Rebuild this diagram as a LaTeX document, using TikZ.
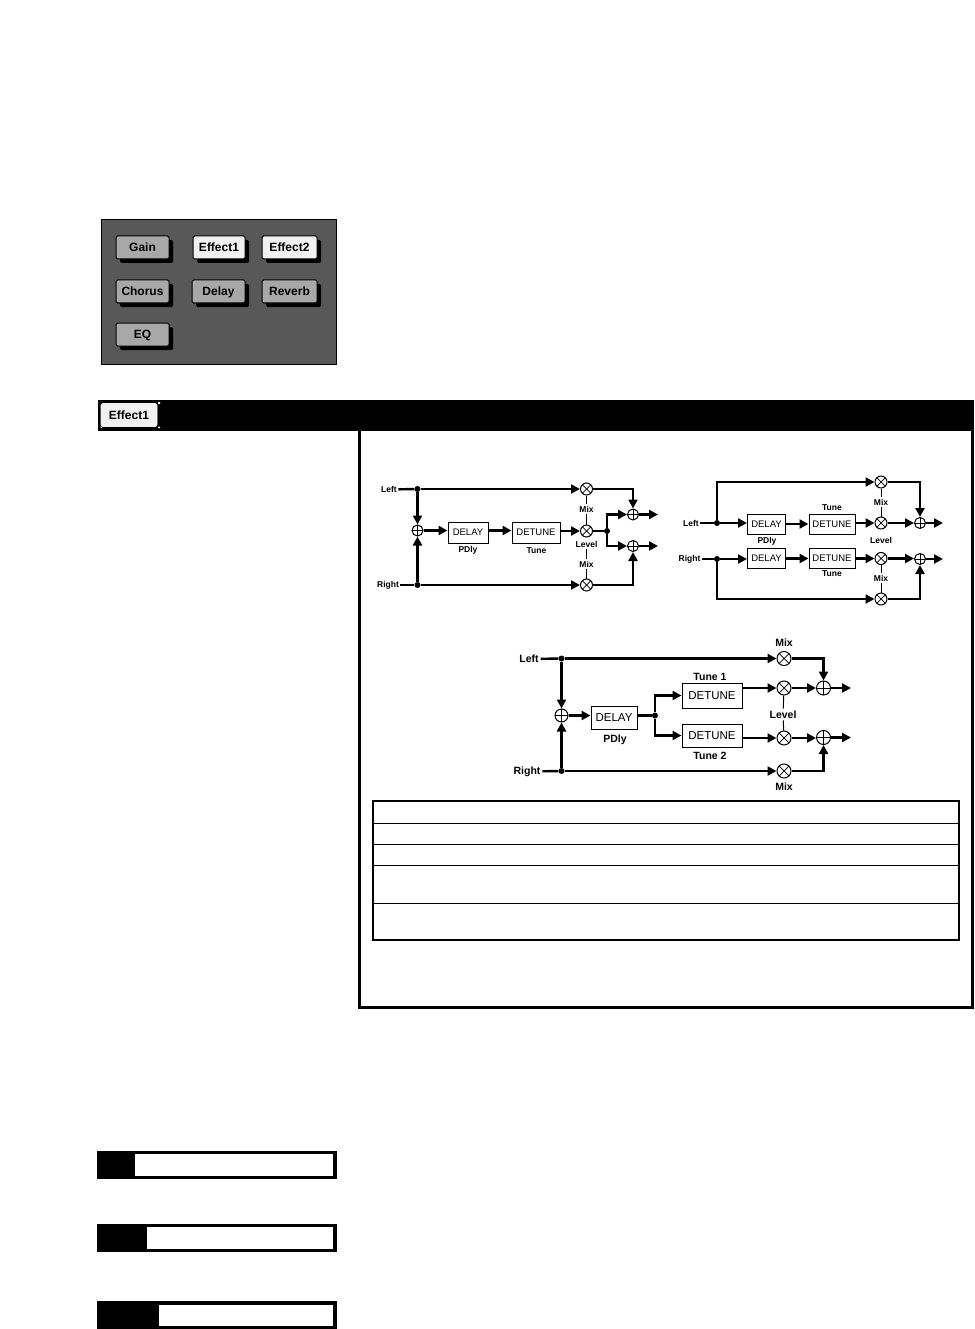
\documentclass[tikz,border=0pt]{standalone}
\usepackage{fontspec}
\setmainfont{Liberation Sans}
\usetikzlibrary{arrows.meta,shadows}
\definecolor{paneldark}{HTML}{585858}
\definecolor{btngray}{HTML}{A8A8A8}
\definecolor{btnlight}{HTML}{F0F0F0}
\tikzset{
  sumn/.style={circle,draw,line width=1pt,fill=white,minimum size=#1,inner sep=0pt,
    path picture={\draw[line width=1pt] (path picture bounding box.north)--(path picture bounding box.south)
      (path picture bounding box.west)--(path picture bounding box.east);}},
  sumn/.default=11pt,
  mixn/.style={circle,draw,line width=1pt,fill=white,minimum size=#1,inner sep=0pt,
    path picture={\draw[line width=0.7pt] (path picture bounding box.north west)--(path picture bounding box.south east)
      (path picture bounding box.south west)--(path picture bounding box.north east);}},
  mixn/.default=12pt,
  blk/.style={draw,line width=1pt,fill=white,inner sep=0pt,font=\fontsize{9.5}{10}\selectfont},
  blkb/.style={blk,font=\fontsize{11.5}{12}\selectfont},
  lbl/.style={inner sep=0pt,outer sep=1.5pt,font=\bfseries\fontsize{8.5}{9}\selectfont},
  lblb/.style={inner sep=0pt,outer sep=2pt,font=\bfseries\fontsize{10.5}{11}\selectfont},
  sig/.style={line width=2.4pt,-{Triangle[length=9pt,width=9pt]}},
  wire/.style={line width=2.4pt},
  tickl/.style={line width=1pt},
  jdot/.style={circle,fill=black,minimum size=6pt,inner sep=0pt},
  btn/.style={draw=black,line width=1pt,rounded corners=1.5pt,inner sep=0pt,text height=9pt,text depth=1pt,
    font=\bfseries\fontsize{12}{12}\selectfont,
    drop shadow={shadow xshift=4pt,shadow yshift=-4pt,fill=black,opacity=1}},
}
\begin{document}
\begin{tikzpicture}[x=1pt,y=-1pt]
\useasboundingbox (0,0) rectangle (974,1329);
\fill[white] (0,0) rectangle (974,1329);

% ---- button panel
\node[draw=black,line width=1pt,fill=paneldark,minimum width=235pt,minimum height=145pt,inner sep=0pt] (panel) at (219,292) {};
\node[btn,fill=btngray,minimum width=53pt,minimum height=23pt] (gain) at (142.5,247.5) {Gain};
\node[btn,fill=btnlight,minimum width=52pt,minimum height=23pt] (eff1) at (219,247.5) {Effect1};
\node[btn,fill=btnlight,minimum width=55pt,minimum height=23pt] (eff2) at (289.5,247.5) {Effect2};
\node[btn,fill=btngray,minimum width=53pt,minimum height=23pt] (chorus) at (142.5,291.5) {Chorus};
\node[btn,fill=btngray,minimum width=53pt,minimum height=23pt] (delaybtn) at (218.5,291.5) {Delay};
\node[btn,fill=btngray,minimum width=55pt,minimum height=23pt] (reverb) at (289.5,291.5) {Reverb};
\node[btn,fill=btngray,minimum width=53pt,minimum height=23pt] (eq) at (142.5,334.5) {EQ};

% ---- header bar and frame
\fill[black] (98,400) rectangle (974,431);
\fill[white] (100.5,426.5) rectangle (102,428) (158,426.5) rectangle (160,428) (158,402) rectangle (160,404);
\node[draw=btnlight,line width=0.6pt,rounded corners=1.5pt,fill=btnlight,minimum width=56pt,minimum height=23pt,inner sep=0pt,
  text height=9pt,text depth=1pt,font=\bfseries\fontsize{12}{12}\selectfont] (hdrbtn) at (129,415) {Effect1};
\draw[line width=3pt] (359.5,431) -- (359.5,1007.5) -- (972.5,1007.5) -- (972.5,431);

% ---- table
\draw[line width=2pt] (373,801) rectangle (959,939.5);
\draw[line width=1.6pt] (373,823.5) -- (959,823.5) (373,844.5) -- (959,844.5)
  (373,865.5) -- (959,865.5) (373,903.5) -- (959,903.5);

% ---- diagram 1
\node[lbl] (aL) at (389,489.5) {Left};
\node[lbl] (aR) at (388,585) {Right};
\node[jdot] (aj1) at (417.5,489) {};
\node[jdot] (aj2) at (417.5,585) {};
\node[sumn] (as0) at (417.5,530.5) {};
\node[blk,minimum width=40pt,minimum height=21pt] (ad1) at (468,532.5) {DELAY};
\node[blk,minimum width=48pt,minimum height=21pt] (ad2) at (536,532.5) {DETUNE};
\node[mixn] (am1) at (586.5,489) {};
\node[mixn] (am2) at (586.5,531) {};
\node[mixn] (am3) at (586.5,585) {};
\node[jdot] (aj3) at (607,531) {};
\node[sumn] (as1) at (633,514.5) {};
\node[sumn] (as2) at (633,546) {};
\coordinate (ao1) at (658,514.5);
\coordinate (ao2) at (658,546);
\node[lbl] at (468,550.5) (apd) {PDly};
\node[lbl] at (536.5,550.5) (atu) {Tune};
\node[lbl] at (586.5,509) (amxa) {Mix};
\node[lbl] at (586.5,544) (alev) {Level};
\node[lbl] at (586.5,564) (amxb) {Mix};
\draw[wire] (aL) -- (aj1);
\draw[wire] (aR) -- (aj2);
\draw[sig] (aj1) -- (am1);
\draw[sig] (aj2) -- (am3);
\draw[sig] (aj1) -- (as0);
\draw[sig] (aj2) -- (as0);
\draw[sig] (as0) -- (ad1.west |- as0);
\draw[sig] (ad1.east |- as0) -- (ad2.west |- as0);
\draw[sig] (ad2.east |- am2) -- (am2);
\draw[wire] (am2) -- (aj3);
\draw[sig] (aj3) |- (as1);
\draw[sig] (aj3) |- (as2);
\draw[sig] (am1) -| (as1);
\draw[sig] (am3) -| (as2);
\draw[sig] (as1) -- (ao1);
\draw[sig] (as2) -- (ao2);
\draw[tickl] (am1) -- (amxa);
\draw[tickl] (amxa) -- (am2);
\draw[tickl] (alev) -- (amxb);
\draw[tickl] (amxb) -- (am3);

% ---- diagram 2
\node[lbl] (bL) at (691,523) {Left};
\node[lbl] (bR) at (689.5,559) {Right};
\node[jdot] (bj1) at (717,523) {};
\node[jdot] (bj2) at (717,559) {};
\node[blk,minimum width=38pt,minimum height=20pt] (bd1) at (766.5,524) {DELAY};
\node[blk,minimum width=46pt,minimum height=20pt] (bt1) at (832,524) {DETUNE};
\node[blk,minimum width=38pt,minimum height=20pt] (bd2) at (766.5,558.5) {DELAY};
\node[blk,minimum width=46pt,minimum height=20pt] (bt2) at (832,558.5) {DETUNE};
\node[mixn] (bm1) at (881,482) {};
\node[mixn] (bm2) at (881,523) {};
\node[mixn] (bm3) at (881,558.5) {};
\node[mixn] (bm4) at (881,599) {};
\node[sumn] (bs1) at (920,523) {};
\node[sumn] (bs2) at (920,559) {};
\coordinate (bo1) at (943,523);
\coordinate (bo2) at (943,559);
\node[lbl] (btu1) at (832,508) {Tune};
\node[lbl] (btu2) at (832,574) {Tune};
\node[lbl] (bpd) at (767,541.5) {PDly};
\node[lbl] (blev) at (881,540.5) {Level};
\node[lbl] (bmxa) at (881,502) {Mix};
\node[lbl] (bmxb) at (881,578) {Mix};
\draw[wire] (bL) -- (bj1);
\draw[wire] (bR) -- (bj2);
\draw[sig] (bj1) |- (bm1);
\draw[sig] (bj2) |- (bm4);
\draw[sig] (bj1) -- (bd1.west |- bj1);
\draw[sig] (bj2) -- (bd2.west |- bj2);
\draw[sig] (bd1) -- (bt1);
\draw[sig] (bd2) -- (bt2);
\draw[sig] (bt1.east |- bm2) -- (bm2);
\draw[sig] (bt2) -- (bm3);
\draw[sig] (bm2) -- (bs1);
\draw[sig] (bm3.east) -- (bs2.west |- bm3);
\draw[sig] (bm1) -| (bs1);
\draw[sig] (bm4) -| (bs2);
\draw[sig] (bs1) -- (bo1);
\draw[sig] (bs2) -- (bo2);
\draw[tickl] (bm1) -- (bmxa);
\draw[tickl] (bmxa) -- (bm2);
\draw[tickl] (bm3) -- (bmxb);
\draw[tickl] (bmxb) -- (bm4);

% ---- diagram 3
\node[lblb] (cL) at (529,659) {Left};
\node[lblb] (cR) at (527,771.5) {Right};
\node[jdot] (cj1) at (561.5,658.5) {};
\node[jdot] (cj2) at (561.5,771) {};
\node[sumn=13pt] (cs0) at (561.5,715.5) {};
\node[blkb,minimum width=46pt,minimum height=23pt] (cd) at (614,717.5) {DELAY};
\node[jdot] (cj3) at (655,715.5) {};
\node[blkb,minimum width=60pt,minimum height=25pt] (ct1) at (712,695.5) {DETUNE};
\node[blkb,minimum width=60pt,minimum height=23pt] (ct2) at (712,735.5) {DETUNE};
\node[mixn=14pt] (cm1) at (784,658.5) {};
\node[mixn=14pt] (cm2) at (784,688) {};
\node[mixn=14pt] (cm3) at (784,738) {};
\node[mixn=14pt] (cm4) at (784,771) {};
\node[sumn=14pt] (cs1) at (823.5,688) {};
\node[sumn=14pt] (cs2) at (823.5,737.5) {};
\coordinate (co1) at (851,688);
\coordinate (co2) at (851,737.5);
\node[lblb] (ctu1) at (710,677) {Tune 1};
\node[lblb] (ctu2) at (710,756) {Tune 2};
\node[lblb] (cpd) at (615,740) {PDly};
\node[lblb] (clev) at (783,714.5) {Level};
\node[lblb] (cmxa) at (784,642.5) {Mix};
\node[lblb] (cmxb) at (784,787) {Mix};
\draw[wire] (cL) -- (cj1);
\draw[wire] (cR) -- (cj2);
\draw[sig] (cj1) -- (cm1);
\draw[sig] (cj2) -- (cm4);
\draw[sig] (cj1) -- (cs0);
\draw[sig] (cj2) -- (cs0);
\draw[sig] (cs0) -- (cd.west |- cs0);
\draw[wire] (cd.east |- cj3) -- (cj3);
\draw[sig] (cj3) |- (ct1);
\draw[sig] (cj3) |- (ct2);
\draw[sig] (ct1.east |- cm2) -- (cm2);
\draw[sig] (ct2.east |- cm3) -- (cm3);
\draw[sig] (cm2) -- (cs1);
\draw[sig] (cm3) -- (cs2.west |- cm3);
\draw[sig] (cm1) -| (cs1);
\draw[sig] (cm4) -| (cs2);
\draw[sig] (cs1) -- (co1);
\draw[sig] (cs2) -- (co2);
\draw[tickl] (cm2) -- (clev);
\draw[tickl] (clev) -- (cm3);

% ---- bottom bars
\fill[black] (97,1151) rectangle (337,1179);
\fill[white] (135,1154) rectangle (333,1176);
\fill[black] (97,1224) rectangle (337,1252);
\fill[white] (147,1227) rectangle (333,1249);
\fill[black] (97,1301) rectangle (337,1329);
\fill[white] (159,1305) rectangle (333,1326);
\end{tikzpicture}
\end{document}
